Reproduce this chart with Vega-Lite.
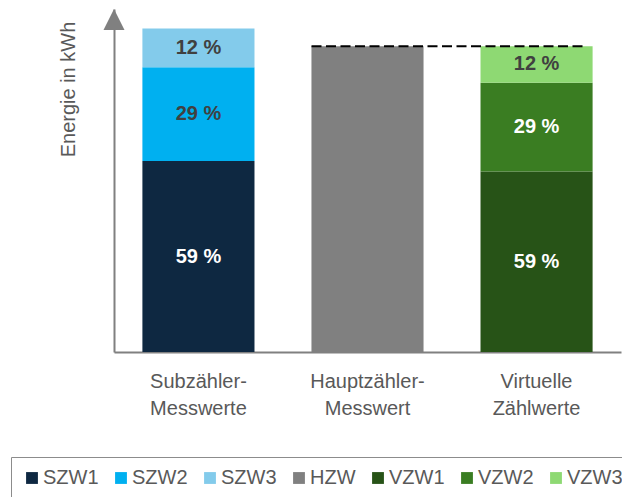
{
  "$schema": "https://vega.github.io/schema/vega-lite/v6.json",
  "width": 507,
  "height": 343,
  "autosize": {"type": "none"},
  "padding": {"left": 114, "top": 9, "right": 1, "bottom": 145},
  "background": "white",
  "config": {"font": "Liberation Sans", "view": {"stroke": null}},
  "datasets": {
    "bars": [
      {"group": "Subzähler- Messwerte", "series": "SZW1", "value": 59, "label": "59 %", "o": 1},
      {"group": "Subzähler- Messwerte", "series": "SZW2", "value": 29, "label": "29 %", "o": 2},
      {"group": "Subzähler- Messwerte", "series": "SZW3", "value": 12, "label": "12 %", "o": 3},
      {"group": "Hauptzähler- Messwert", "series": "HZW", "value": 94.5, "label": "", "o": 1},
      {"group": "Virtuelle Zählwerte", "series": "VZW1", "value": 55.8, "label": "59 %", "o": 1},
      {"group": "Virtuelle Zählwerte", "series": "VZW2", "value": 27.4, "label": "29 %", "o": 2},
      {"group": "Virtuelle Zählwerte", "series": "VZW3", "value": 11.3, "label": "12 %", "o": 3}
    ],
    "ref": [
      {"from": "Hauptzähler- Messwert", "to": "Virtuelle Zählwerte", "level": 94.5}
    ],
    "arrow": [
      {"top": 102.75}
    ]
  },
  "layer": [
    {
      "data": {"name": "bars"},
      "mark": {"type": "bar"},
      "encoding": {
        "x": {
          "field": "group",
          "type": "nominal",
          "scale": {
            "domain": ["Subzähler- Messwerte", "Hauptzähler- Messwert", "Virtuelle Zählwerte"],
            "paddingInner": 0.337,
            "paddingOuter": 0.168
          },
          "axis": {
            "title": null,
            "domainColor": "#808080",
            "domainWidth": 2,
            "ticks": false,
            "tickSize": 0,
            "labelAngle": 0,
            "labelFontSize": 20,
            "labelColor": "#595959",
            "labelPadding": 19,
            "labelLineHeight": 27,
            "labelFont": "Liberation Sans",
            "labelExpr": "split(datum.label, ' ')"
          }
        },
        "y": {
          "field": "value",
          "type": "quantitative",
          "stack": "zero",
          "scale": {"domain": [0, 106], "nice": false},
          "axis": {
            "title": "Energie in kWh",
            "domainColor": "#808080",
            "domainWidth": 2,
            "ticks": false,
            "labels": false,
            "grid": false,
            "titleFontSize": 20,
            "titleFontWeight": "normal",
            "titleColor": "#595959",
            "titleFont": "Liberation Sans",
            "titleX": -46,
            "titleY": 80,
            "titleAngle": -90,
            "titleAlign": "center",
            "titleBaseline": "middle"
          }
        },
        "color": {
          "field": "series",
          "type": "nominal",
          "scale": {
            "domain": ["SZW1", "SZW2", "SZW3", "HZW", "VZW1", "VZW2", "VZW3"],
            "range": ["#0E2841", "#00B0F0", "#83CBEB", "#808080", "#275317", "#3A7D22", "#8ED973"]
          },
          "legend": {
            "title": null,
            "orient": "none",
            "legendX": -103,
            "legendY": 448,
            "direction": "horizontal",
            "columns": 7,
            "gridAlign": "none",
            "symbolType": "square",
            "symbolSize": 140,
            "symbolStrokeWidth": 0,
            "labelFontSize": 20,
            "labelColor": "#595959",
            "labelFont": "Liberation Sans",
            "labelOffset": 1,
            "columnPadding": 12,
            "padding": 11,
            "strokeColor": "#8c8c8c"
          }
        },
        "order": {"field": "o", "type": "quantitative"}
      }
    },
    {
      "data": {"name": "bars"},
      "transform": [{"filter": "datum.label != ''"}],
      "mark": {"type": "text", "fontSize": 20, "fontWeight": "bold", "font": "Liberation Sans"},
      "encoding": {
        "x": {"field": "group", "type": "nominal"},
        "y": {"field": "value", "type": "quantitative", "stack": "zero", "bandPosition": 0.5},
        "detail": {"field": "series", "type": "nominal"},
        "order": {"field": "o", "type": "quantitative"},
        "text": {"field": "label", "type": "nominal"},
        "color": {
          "condition": {"test": "indexof(['SZW2','SZW3','VZW3'], datum.series) >= 0", "value": "#404040"},
          "value": "#ffffff"
        }
      }
    },
    {
      "data": {"name": "ref"},
      "mark": {"type": "rule", "strokeDash": [10, 4.5], "strokeWidth": 2, "color": "#000000", "xOffset": -56, "x2Offset": 50},
      "encoding": {
        "x": {"field": "from", "type": "nominal"},
        "x2": {"field": "to"},
        "y": {"field": "level", "type": "quantitative"}
      }
    },
    {
      "data": {"name": "arrow"},
      "mark": {"type": "point", "shape": "M0,-1L1,1L-1,1Z", "size": 441, "filled": true, "color": "#808080", "opacity": 1},
      "encoding": {
        "x": {"value": 0},
        "y": {"field": "top", "type": "quantitative"}
      }
    }
  ]
}
